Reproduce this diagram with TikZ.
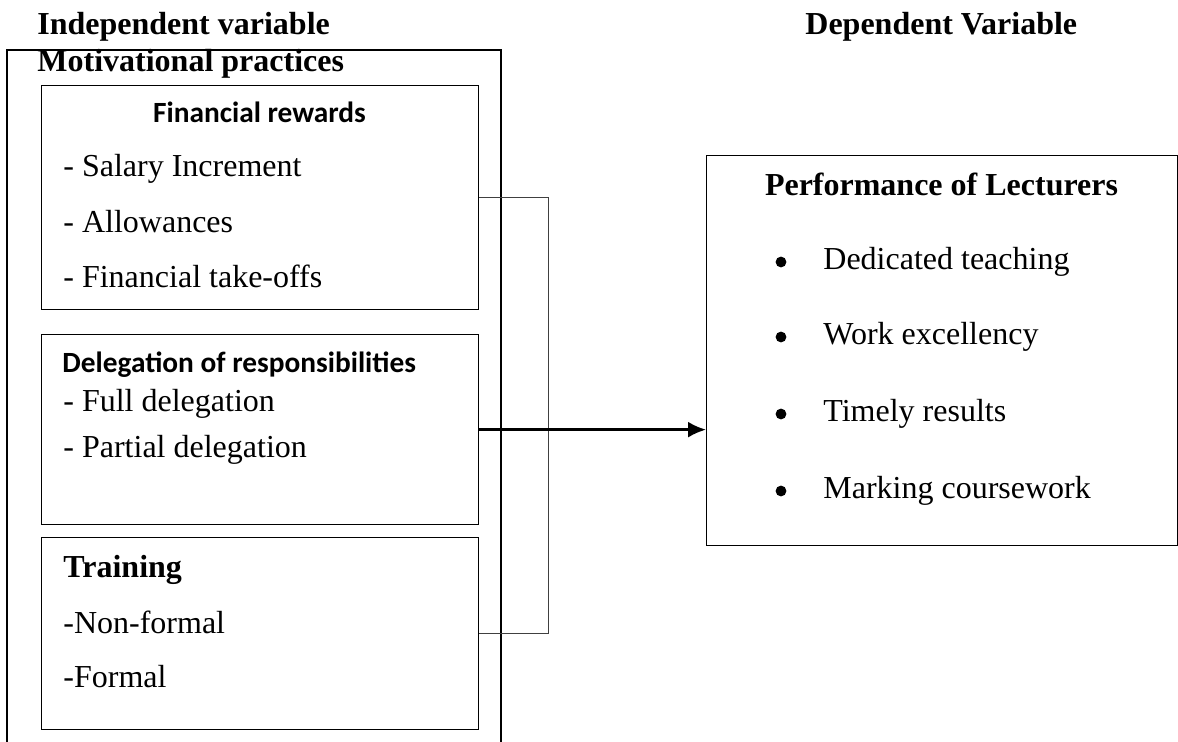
\documentclass[tikz,border=0pt]{standalone}
\usepackage{fontspec}
\setmainfont{Liberation Serif}
\newfontfamily\carlito{Carlito}
\usetikzlibrary{arrows.meta,positioning,calc}

\begin{document}
\begin{tikzpicture}[
  x=0.5pt, y=-0.5pt,
  every node/.style={font=\fontsize{16}{19}\selectfont, inner sep=0pt},
  head/.style={anchor=base west, font=\fontsize{16}{19}\selectfont\bfseries},
  subhead/.style={anchor=base west, font=\fontsize{14.67}{17}\selectfont\carlito\bfseries},
  item/.style={anchor=base west},
  dot/.style={circle, fill, minimum size=5.4pt},
  box/.style={rectangle, draw, line width=0.65pt, anchor=north west, minimum width=218.5pt},
  link/.style={line width=0.55pt, black!75},
  arr/.style={-{Latex[length=9pt,width=8pt]}, line width=1.2pt}
]
\useasboundingbox (0,0) rectangle (1178,742);

% Column titles
\node[head] (indep) at (37,35) {Independent variable};
\node[head] (dep) at (805,35) {Dependent Variable};

% Outer frame, open at the bottom
\draw[line width=0.65pt] (7,745) -- (7,50) -- (501,50) -- (501,745);
\node[head] (motiv) at (37,72) {Motivational practices};

% Financial rewards
\node[box, minimum height=112pt] (fin) at (41,85) {};
\node[anchor=base, font=\fontsize{14.67}{17}\selectfont\carlito\bfseries] (fintitle) at (259.5,123) {Financial rewards};
\node[item] (sal) at (63,177) {- Salary Increment};
\node[item] (allow) at (63,233) {- Allowances};
\node[item] (takeoff) at (63,288) {- Financial take-offs};

% Delegation of responsibilities
\node[box, minimum height=95pt] (deleg) at (41,334) {};
\node[subhead] (delegtitle) at (62,373) {Delegation of responsibilities};
\node[item] (full) at (63,412) {- Full delegation};
\node[item] (partial) at (63,458) {- Partial delegation};

% Training
\node[box, minimum height=96pt] (train) at (41,537) {};
\node[head] (traintitle) at (63,578) {Training};
\node[item] (nonformal) at (63,633) {-Non-formal};
\node[item] (formal) at (63,687) {-Formal};

% Performance of lecturers
\node[box, minimum width=235.5pt, minimum height=195pt] (perf) at (706,155) {};
\node[anchor=base, font=\fontsize{16}{19}\selectfont\bfseries] (perftitle) at (941.5,196) {Performance of Lecturers};
\node[dot] (b1) at (781,262) {};
\node[item] (teach) at (823,270) {Dedicated teaching};
\node[dot] (b2) at (781,337) {};
\node[item] (excel) at (823,345) {Work excellency};
\node[dot] (b3) at (781,414) {};
\node[item] (timely) at (823,422) {Timely results};
\node[dot] (b4) at (781,491) {};
\node[item] (marking) at (823,499) {Marking coursework};

% Connectors
\draw[link] (fin.east) -- ++(69,0) |- (train.east);
\draw[arr] (deleg.east) -- (deleg.east -| perf.west);

\end{tikzpicture}
\end{document}
